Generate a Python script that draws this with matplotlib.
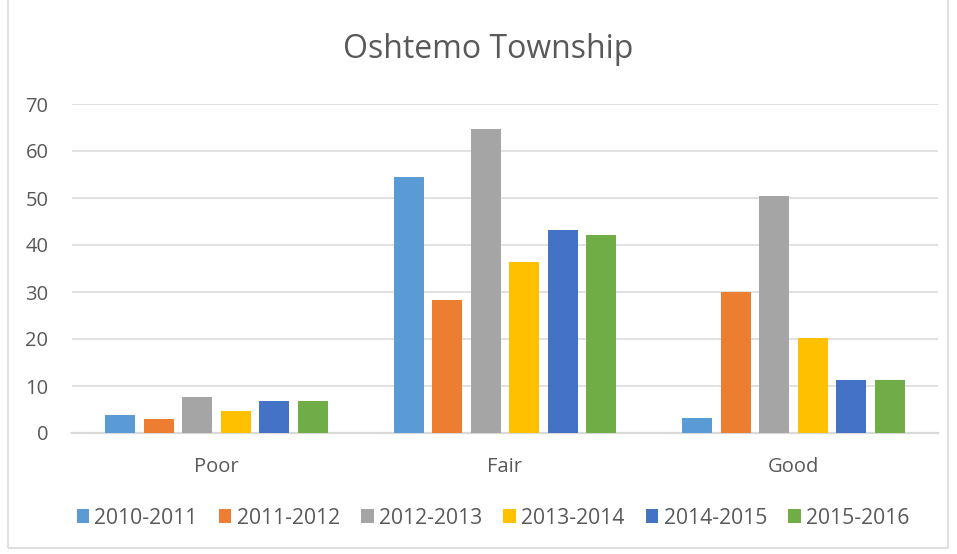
import numpy as np
import matplotlib.pyplot as plt
from matplotlib.patches import Rectangle

plt.rcParams["font.family"] = ["Open Sans", "DejaVu Sans"]

# ---- data ----
CATEGORIAS = ["Poor", "Fair", "Good"]
SERIES = ["2010-2011", "2011-2012", "2012-2013", "2013-2014", "2014-2015", "2015-2016"]
VALORES = {
    "2010-2011": [3.9, 54.4, 3.2],
    "2011-2012": [3.0, 28.3, 30.0],
    "2012-2013": [7.7, 64.7, 50.4],
    "2013-2014": [4.7, 36.3, 20.2],
    "2014-2015": [6.9, 43.2, 11.3],
    "2015-2016": [6.9, 42.2, 11.3],
}
CORES = ["#5B9BD5", "#ED7D31", "#A5A5A5", "#FFC000", "#4472C4", "#70AD47"]
Y_TICKS = [0, 10, 20, 30, 40, 50, 60, 70]

# ---- figure ----
fig = plt.figure(figsize=(9.57, 5.54), dpi=100)
ax = fig.add_axes([72 / 957, 1 - 433 / 554, (938 - 72) / 957, (433 - 104) / 554])

x = np.arange(len(CATEGORIAS))
passo = 0.1333
largura = 0.104
for i, (serie, cor) in enumerate(zip(SERIES, CORES)):
    ax.bar(x + (i - 2.5) * passo, VALORES[serie], width=largura, color=cor,
           label=serie, zorder=3)

ax.set_xlim(-0.5, 2.5)
ax.set_ylim(0, 70)
ax.set_yticks(Y_TICKS)
ax.set_xticks(x)
ax.set_xticklabels(CATEGORIAS)
ax.grid(axis="y", color="#D9D9D9", lw=1.1, zorder=0)
for s in ["top", "right", "left"]:
    ax.spines[s].set_visible(False)
ax.spines["bottom"].set_color("#D9D9D9")
ax.spines["bottom"].set_linewidth(1.6)
ax.tick_params(length=0, labelsize=14.5, colors="#595959")
ax.tick_params(axis="y", pad=17)
ax.tick_params(axis="x", pad=17)

fig.text(488 / 957, 1 - 49 / 554, "Oshtemo Township", ha="center", va="center",
         fontsize=23, color="#595959")

fig.legend(loc="center", bbox_to_anchor=(493 / 957, 1 - 518 / 554), ncol=6,
           frameon=False, fontsize=15.2, handlelength=0.6, handleheight=0.6,
           handletextpad=0.25, columnspacing=1.0, labelcolor="#595959")

fig.patches.append(Rectangle((8 / 957, 6 / 554), 940 / 957, 560 / 554,
                             transform=fig.transFigure, fill=False,
                             edgecolor="#D9D9D9", lw=1.2))

fig.savefig("out.png", dpi=100)
